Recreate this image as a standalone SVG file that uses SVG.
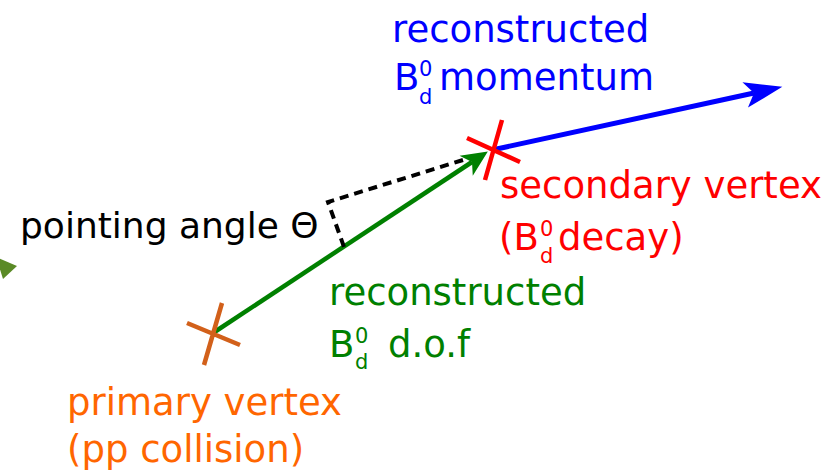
<svg xmlns="http://www.w3.org/2000/svg" width="840" height="473" viewBox="0 0 840 473">
<style>
text{font-family:"DejaVu Sans","Noto Sans",sans-serif;font-size:37px}
.s{font-size:21px}
.blue{fill:#0000ff}.red{fill:#ff0000}.green{fill:#008000}.orange{fill:#ff6600}.black{fill:#000}
.cross{stroke-width:4.5;fill:none;stroke-linecap:butt}
</style>
<defs>
<marker id="ahBlue" markerUnits="userSpaceOnUse" orient="auto" refX="0" refY="0" markerWidth="60" markerHeight="40" viewBox="-15 -20 60 40" overflow="visible">
<path d="M29,0 L-9,-13 L0,0 L-9,13 Z" fill="#0000ff"/>
</marker>
<marker id="ahGreen" markerUnits="userSpaceOnUse" orient="auto" refX="0" refY="0" markerWidth="40" markerHeight="40" viewBox="-15 -20 40 40" overflow="visible">
<path d="M19,0 L-7,-12 L0,0 L-7,12 Z" fill="#008000"/>
</marker>
</defs>
<g id="connectors">
<path id="dof-arrow" d="M213,333 L472,162" stroke="#008000" stroke-width="4.5" fill="none" marker-end="url(#ahGreen)"/>
<path id="momentum-arrow" d="M492,150 L754,93" stroke="#0000ff" stroke-width="5" fill="none" marker-end="url(#ahBlue)"/>
<path id="angle-lines" d="M463,160 L328,202 L344,247" stroke="#000" stroke-width="4" stroke-dasharray="9,6" fill="none"/>
</g>
<g id="primary-vertex">
<path class="cross" stroke="#d2601a" d="M187,323 L240,345 M222,303 L204,365"/>
<text class="orange" x="67" y="415">primary vertex</text>
<text class="orange" x="67" y="462">(pp collision)</text>
</g>
<g id="secondary-vertex">
<path class="cross" stroke="#ff0000" d="M467,138 L520,162 M502,120 L485,180"/>
<text class="red" x="499" y="250">(B<tspan class="s" x="540" y="236">0</tspan><tspan class="s" x="540" y="263">d</tspan><tspan x="558" y="250">decay)</tspan></text>
<text class="red" x="500" y="198">secondary vertex</text>
</g>
<g id="momentum-label">
<text class="blue" x="392" y="42">reconstructed</text>
<text class="blue" x="394" y="90">B<tspan class="s" x="419" y="76">0</tspan><tspan class="s" x="419" y="104">d</tspan><tspan x="439" y="90">momentum</tspan></text>
</g>
<g id="dof-label">
<text class="green" x="329" y="305">reconstructed</text>
<text class="green" x="329" y="357">B<tspan class="s" x="355" y="343">0</tspan><tspan class="s" x="355" y="369">d</tspan><tspan x="388" y="357">d.o.f</tspan></text>
</g>
<g id="pointing-angle">
<text class="black" x="20" y="238" style="font-size:36px">pointing angle Θ</text>
</g>
<g id="edge-marker">
<polygon points="-4,257 17,266 3,279" fill="#5a8a26"/>
</g>
</svg>
